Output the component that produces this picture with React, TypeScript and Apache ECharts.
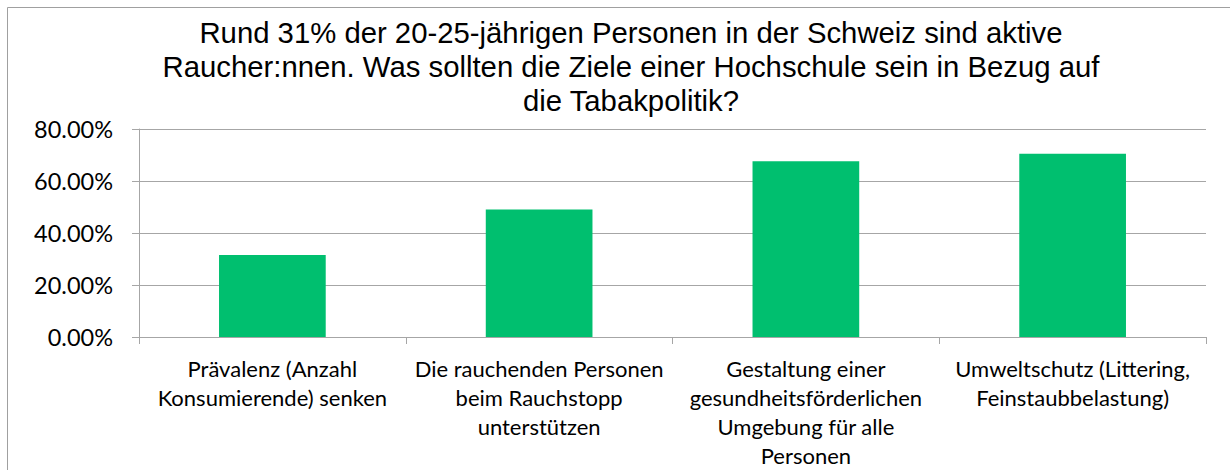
import React, { useEffect, useRef } from "react";
import * as echarts from "echarts";

const titleLines = [
  "Rund 31% der 20-25-jährigen Personen in der Schweiz sind aktive",
  "Raucher:nnen. Was sollten die Ziele einer Hochschule sein in Bezug auf",
  "die Tabakpolitik?",
];

const categories = [
  "Prävalenz (Anzahl\nKonsumierende) senken",
  "Die rauchenden Personen\nbeim Rauchstopp\nunterstützen",
  "Gestaltung einer\ngesundheitsförderlichen\nUmgebung für alle\nPersonen",
  "Umweltschutz (Littering,\nFeinstaubbelastung)",
];

const values = [0.315, 0.49, 0.676, 0.705];

const yMin = 0;
const yMax = 0.8;
const yStep = 0.2;

const LABEL_FONT = "Lato, 'Noto Sans', sans-serif";
const TITLE_FONT = "'Liberation Sans', Arial, sans-serif";

export default function App() {
  const ref = useRef<HTMLDivElement>(null);

  useEffect(() => {
    if (!ref.current) return;
    const chart = echarts.init(ref.current, undefined, { renderer: "svg" });
    chart.setOption({
      animation: false,
      backgroundColor: "#ffffff",
      title: {
        text: titleLines.join("\n"),
        left: 626,
        top: 11,
        textAlign: "center",
        textStyle: {
          fontFamily: TITLE_FONT,
          fontSize: 29.3,
          fontWeight: "normal",
          color: "#000000",
          lineHeight: 33.7,
        },
      },
      graphic: [
        {
          type: "rect",
          shape: { x: 7.5, y: 7.5, width: 1260, height: 500 },
          style: { fill: "none", stroke: "#a0a0a0", lineWidth: 1 },
          z: -1,
          silent: true,
        },
      ],
      grid: {
        left: 139,
        right: 24,
        top: 129,
        bottom: 131,
        containLabel: false,
      },
      xAxis: {
        type: "category",
        data: categories,
        boundaryGap: true,
        axisLine: { show: true, lineStyle: { color: "#a6a6a6", width: 1 } },
        axisTick: { show: true, length: 7, alignWithLabel: false, lineStyle: { color: "#a6a6a6" } },
        axisLabel: {
          interval: 0,
          margin: 17,
          fontFamily: LABEL_FONT,
          fontSize: 22,
          lineHeight: 29,
          color: "#000000",
          align: "center",
        },
        splitLine: { show: false },
      },
      yAxis: {
        type: "value",
        min: yMin,
        max: yMax,
        interval: yStep,
        axisLine: { show: true, lineStyle: { color: "#a6a6a6", width: 1 } },
        axisTick: { show: true, length: 7, lineStyle: { color: "#a6a6a6" } },
        axisLabel: {
          margin: 26,
          fontFamily: LABEL_FONT,
          fontSize: 23.5,
          color: "#000000",
          formatter: (v: number) => (v * 100).toFixed(2) + "%",
        },
        splitLine: { show: true, lineStyle: { color: "#a6a6a6", width: 1 } },
      },
      series: [
        {
          type: "bar",
          data: values,
          barWidth: "40%",
          itemStyle: { color: "#00bf6f" },
        },
      ],
    });
    return () => chart.dispose();
  }, []);

  return (
    <div
      ref={ref}
      style={{ position: "fixed", left: 0, top: 0, width: 1230, height: 470 }}
    />
  );
}
